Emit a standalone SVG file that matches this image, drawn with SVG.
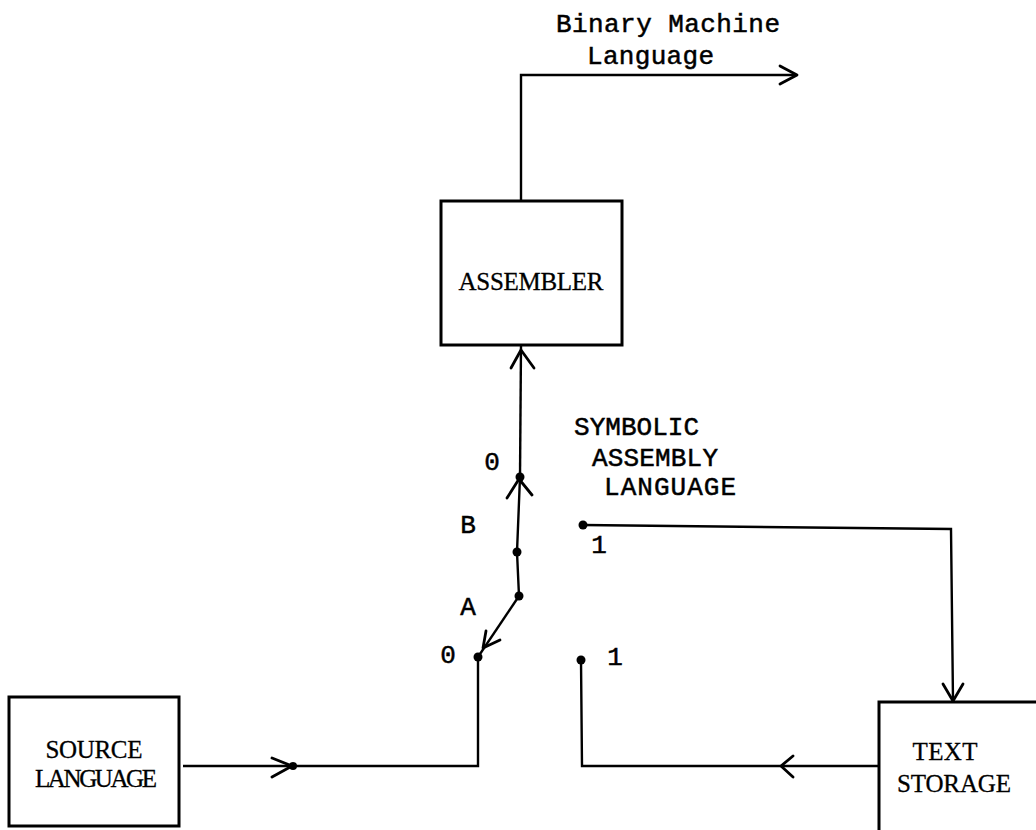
<svg xmlns="http://www.w3.org/2000/svg" width="1036" height="830" viewBox="0 0 1036 830">
<style>
.box{fill:none;stroke:#000;stroke-width:3}
.ln{fill:none;stroke:#000;stroke-width:2.4;stroke-linejoin:miter}
.ah{fill:none;stroke:#000;stroke-width:2.8;stroke-linecap:round;stroke-linejoin:round}
.dot{fill:#000}
.tw{font-family:"Liberation Mono","DejaVu Sans Mono",monospace;font-size:26px;fill:#000;stroke:#000;stroke-width:0.5}
.bx{font-family:"Liberation Serif","DejaVu Serif",serif;font-size:25px;fill:#000;stroke:#000;stroke-width:0.3;text-anchor:middle}
</style>
<rect width="1036" height="830" fill="#fff"/>
<g id="connectors">
<polyline class="ln" points="521,201 521,75 796,75"/>
<polyline class="ah" points="780,66 797,75 780,84"/>
<polyline class="ln" points="520,477 521,345"/>
<polyline class="ah" points="511,368 521,350 534,368"/>
<polyline class="ln" points="519,596 517,552 520,477"/>
<polyline class="ah" points="507,498 519,479 532,495"/>
<line class="ln" x1="519" y1="596" x2="478" y2="657"/>
<polyline class="ah" points="486,631 483,648 500,640"/>
<polyline class="ln" points="183,766 478,766 478,657"/>
<polyline class="ah" points="272,758 292,766 272,777"/>
<polyline class="ln" points="583,525 951,529 953,701"/>
<polyline class="ah" points="943,684 953,701 963,684"/>
<polyline class="ln" points="879,766 582,766 581,660"/>
<polyline class="ah" points="793,756 781,766 793,777"/>
<circle class="dot" cx="520" cy="477" r="4.5"/>
<circle class="dot" cx="517" cy="552" r="4.5"/>
<circle class="dot" cx="519" cy="596" r="4.5"/>
<circle class="dot" cx="478" cy="657" r="4.5"/>
<circle class="dot" cx="583" cy="525" r="4.5"/>
<circle class="dot" cx="581" cy="660" r="4.5"/>
<circle class="dot" cx="293" cy="766" r="4"/>
</g>
<g id="labels">
<text class="tw" x="556" y="32" textLength="224">Binary Machine</text>
<text class="tw" x="587" y="64" textLength="127">Language</text>
<text class="tw" x="574" y="435" textLength="125">SYMBOLIC</text>
<text class="tw" x="592" y="466" textLength="126">ASSEMBLY</text>
<text class="tw" x="604" y="495" textLength="132">LANGUAGE</text>
<text class="tw" x="492" y="470" text-anchor="middle">0</text>
<text class="tw" x="468" y="533" text-anchor="middle">B</text>
<text class="tw" x="468" y="615" text-anchor="middle">A</text>
<text class="tw" x="448" y="663" text-anchor="middle">0</text>
<text class="tw" x="599" y="553" text-anchor="middle">1</text>
<text class="tw" x="615" y="665" text-anchor="middle">1</text>
</g>
<g id="assembler">
<rect class="box" x="441" y="201" width="181" height="144"/>
<text class="bx" x="531" y="290" textLength="145">ASSEMBLER</text>
</g>
<g id="source-language">
<rect class="box" x="9" y="697" width="170" height="129"/>
<text class="bx" x="94" y="758" textLength="97">SOURCE</text>
<text class="bx" x="96" y="787" textLength="122">LANGUAGE</text>
</g>
<g id="text-storage">
<rect class="box" x="879" y="702" width="190" height="160"/>
<text class="bx" x="945" y="760" textLength="65">TEXT</text>
<text class="bx" x="954" y="792" textLength="114">STORAGE</text>
</g>
</svg>
